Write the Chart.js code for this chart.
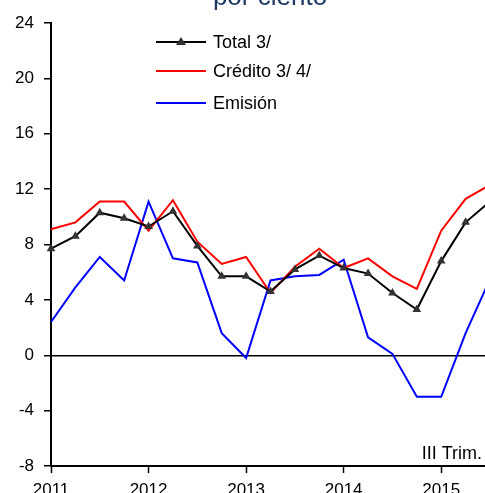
<!DOCTYPE html>
<html lang="es">
<head>
  <meta charset="UTF-8">
  <title>Financiamiento - por ciento</title>
  <script src="https://cdn.jsdelivr.net/npm/chart.js"></script>
  <style>
    html, body { margin: 0; padding: 0; overflow: hidden; background: #fff; }
    #wrap { position: relative; width: 485px; height: 493px; overflow: hidden; }
    #chart { position: absolute; left: 0; top: -30px; }
  </style>
</head>
<body>
  <div id="wrap">
    <canvas id="chart" width="500" height="540"></canvas>
  </div>
  <script>
    // quarters 2011 I .. 2015 III
    const quarters = [
      '2011 I', '2011 II', '2011 III', '2011 IV',
      '2012 I', '2012 II', '2012 III', '2012 IV',
      '2013 I', '2013 II', '2013 III', '2013 IV',
      '2014 I', '2014 II', '2014 III', '2014 IV',
      '2015 I', '2015 II', '2015 III'
    ];
    const total = [7.7, 8.6, 10.3, 9.9, 9.3, 10.4, 7.9, 5.7, 5.7, 4.6, 6.2, 7.2, 6.3, 5.9, 4.5, 3.3, 6.8, 9.6, 11.1];
    const credito = [9.1, 9.6, 11.1, 11.1, 9.0, 11.2, 8.2, 6.6, 7.1, 4.5, 6.4, 7.7, 6.3, 7.0, 5.7, 4.8, 9.0, 11.3, 12.3];
    const emision = [2.4, 4.9, 7.1, 5.4, 11.1, 7.0, 6.7, 1.6, -0.2, 5.4, 5.7, 5.8, 6.9, 1.3, 0.1, -3.0, -3.0, 1.6, 5.5];
    const yTicks = { min: -8, max: 24, step: 4 };
    const seriesNames = ['Total 3/', 'Crédito 3/ 4/', 'Emisión'];

    const FONT = 'Liberation Sans, Arial, sans-serif';

    // title, legend and note drawn by hand
    const extras = {
      id: 'extras',
      afterDraw(chart) {
        const ctx = chart.ctx;
        const area = chart.chartArea;
        ctx.save();
        ctx.fillStyle = '#1f3864';
        ctx.font = '26px ' + FONT;
        ctx.textAlign = 'center';
        ctx.textBaseline = 'alphabetic';
        ctx.fillText('por ciento', 270, 35);

        const rows = [72, 101, 133];
        chart.data.datasets.forEach((ds, i) => {
          const y = rows[i];
          ctx.strokeStyle = ds.borderColor;
          ctx.lineWidth = 2;
          ctx.beginPath();
          ctx.moveTo(156, y);
          ctx.lineTo(206, y);
          ctx.stroke();
          if (ds.pointRadius > 0) {
            ctx.fillStyle = ds.pointBackgroundColor;
            ctx.beginPath();
            ctx.moveTo(181, y - 5);
            ctx.lineTo(186, y + 3);
            ctx.lineTo(176, y + 3);
            ctx.closePath();
            ctx.fill();
          }
          ctx.fillStyle = '#000';
          ctx.font = '18px ' + FONT;
          ctx.textAlign = 'left';
          ctx.textBaseline = 'middle';
          ctx.fillText(ds.label, 213, y + 1);
        });

        ctx.font = '18px ' + FONT;
        ctx.textAlign = 'right';
        ctx.textBaseline = 'alphabetic';
        ctx.fillStyle = '#000';
        ctx.fillText('III Trim.', 482, 489);
        ctx.restore();
      }
    };

    new Chart(document.getElementById('chart'), {
      type: 'line',
      data: {
        labels: quarters,
        datasets: [
          {
            label: seriesNames[0],
            data: total,
            borderColor: '#000000',
            borderWidth: 2,
            pointStyle: 'triangle',
            pointRadius: 5,
            pointBackgroundColor: '#333333',
            pointBorderColor: '#333333',
            pointBorderWidth: 0,
            tension: 0,
            order: 0
          },
          {
            label: seriesNames[1],
            data: credito,
            borderColor: '#ff0000',
            borderWidth: 2,
            pointRadius: 0,
            tension: 0,
            order: 1
          },
          {
            label: seriesNames[2],
            data: emision,
            borderColor: '#0000ff',
            borderWidth: 2,
            pointRadius: 0,
            tension: 0,
            order: 2
          }
        ]
      },
      options: {
        responsive: false,
        animation: false,
        devicePixelRatio: 1,
        layout: { padding: { left: 0, right: 10, top: 53, bottom: 0 } },
        plugins: {
          legend: { display: false },
          title: { display: false },
          tooltip: { enabled: false }
        },
        scales: {
          x: {
            type: 'category',
            offset: false,
            afterFit(scale) { scale.height = 44; },
            border: { display: true, color: '#000', width: 2 },
            grid: {
              drawOnChartArea: false,
              drawTicks: true,
              tickLength: 7,
              tickWidth: 1.5,
              tickColor: (c) => (c.index % 4 === 0 ? '#000' : 'rgba(0,0,0,0)')
            },
            ticks: {
              autoSkip: false,
              maxRotation: 0,
              padding: 7,
              color: '#000',
              font: { family: FONT, size: 17 },
              callback: (v, i) => (i % 4 === 0 ? quarters[i].split(' ')[0] : '')
            }
          },
          y: {
            min: yTicks.min,
            max: yTicks.max,
            afterFit(scale) { scale.width = 51; },
            border: { display: true, color: '#000', width: 2 },
            grid: {
              drawOnChartArea: true,
              drawTicks: true,
              tickLength: 7,
              tickWidth: 1.5,
              tickColor: '#000',
              color: (c) => (c.tick && c.tick.value === 0 ? '#000' : 'rgba(0,0,0,0)'),
              lineWidth: 1.5
            },
            ticks: {
              stepSize: yTicks.step,
              padding: 10,
              color: '#000',
              font: { family: FONT, size: 17 }
            }
          }
        }
      },
      plugins: [extras]
    });
  </script>
</body>
</html>
